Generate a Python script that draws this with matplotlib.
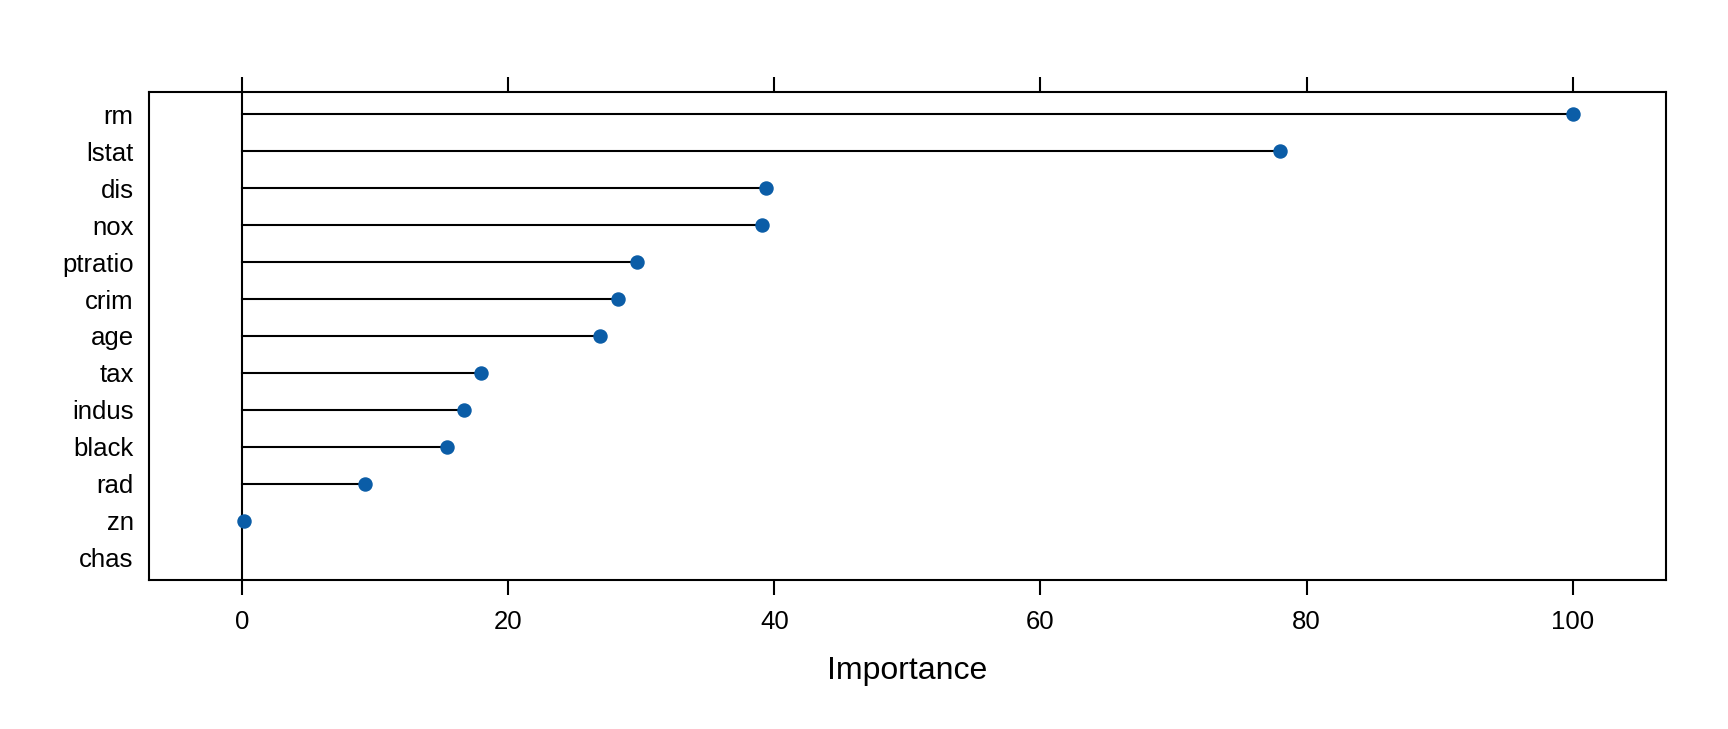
import matplotlib.pyplot as plt

plt.rcParams['font.family'] = ['Liberation Sans', 'DejaVu Sans']

features = ["rm", "lstat", "dis", "nox", "ptratio", "crim", "age",
            "tax", "indus", "black", "rad", "zn", "chas"]
importance = [100.0, 78.0, 39.35, 39.05, 29.66, 28.25, 26.93,
              17.98, 16.65, 15.41, 9.2, 0.17, 0.0]
xticks = [0, 20, 40, 60, 80, 100]

dot_color = '#0B5DA7'

fig = plt.figure(figsize=(17.28, 7.29), dpi=100)
ax = fig.add_axes([0.0862, 0.2048, 0.964 - 0.0862, 0.8734 - 0.2048])

n = len(features)
ypos = [n - i for i in range(n)]

# reference line at zero
ax.axvline(0, color='black', lw=1.5, zorder=1)

for y, v in zip(ypos, importance):
    ax.plot([0, v], [y, y], color='black', lw=1.5, zorder=2)
    if v > 0:
        ax.plot(v, y, 'o', color=dot_color, ms=9.4, mec=dot_color, zorder=3)

ax.set_xlim(-7, 107)
ax.set_ylim(0.4, n + 0.6)
ax.set_yticks(ypos)
ax.set_yticklabels(features, fontsize=18.5)
ax.set_xticks(xticks)
ax.set_xticklabels([str(t) for t in xticks], fontsize=18.5)

ax.tick_params(axis='y', length=0, pad=11)
ax.tick_params(axis='x', direction='out', length=11, width=1.5, pad=11,
               top=True, labeltop=False)

for s in ax.spines.values():
    s.set_linewidth(1.5)

ax.set_xlabel("Importance", fontsize=23, labelpad=16)

fig.savefig("out.png", dpi=100)
